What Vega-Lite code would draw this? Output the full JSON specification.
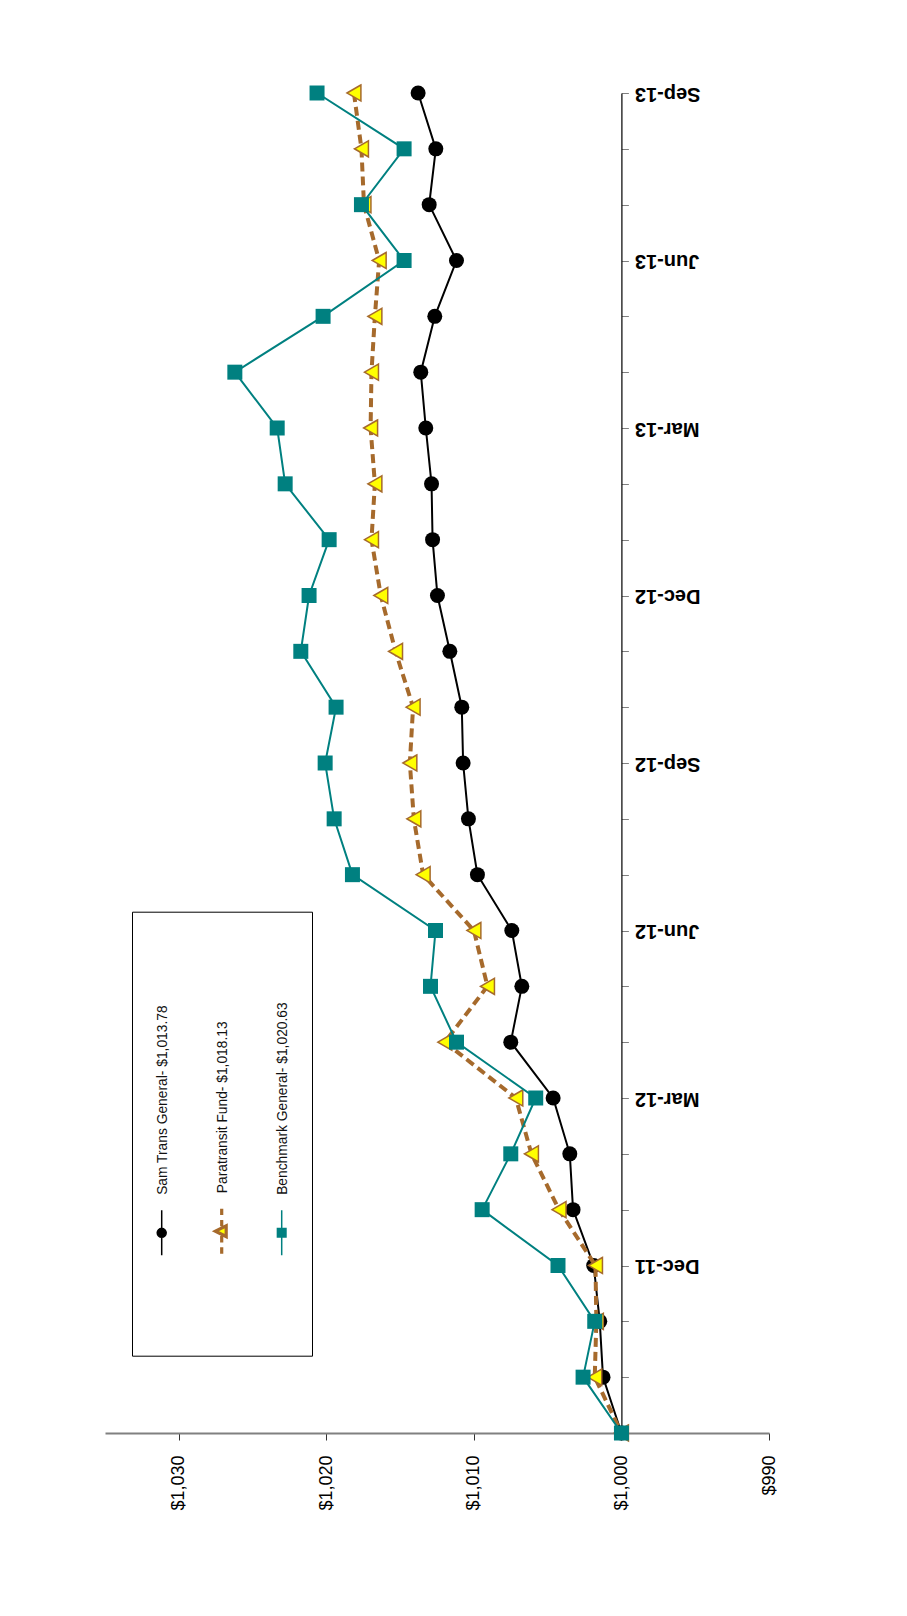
{
  "$schema": "https://vega.github.io/schema/vega-lite/v6.json",
  "width": 664,
  "height": 1340,
  "autosize": {"type": "none"},
  "padding": {"left": 105, "top": 93, "right": 138, "bottom": 183},
  "background": "white",
  "config": {"view": {"stroke": null}, "font": "Liberation Sans"},
  "data": {
    "values": [
      {"month": "Sep-11", "series": "Sam Trans General- $1,013.78", "value": 1000},
      {"month": "Oct-11", "series": "Sam Trans General- $1,013.78", "value": 1001.25},
      {"month": "Nov-11", "series": "Sam Trans General- $1,013.78", "value": 1001.47},
      {"month": "Dec-11", "series": "Sam Trans General- $1,013.78", "value": 1001.88},
      {"month": "Jan-12", "series": "Sam Trans General- $1,013.78", "value": 1003.28},
      {"month": "Feb-12", "series": "Sam Trans General- $1,013.78", "value": 1003.5},
      {"month": "Mar-12", "series": "Sam Trans General- $1,013.78", "value": 1004.63},
      {"month": "Apr-12", "series": "Sam Trans General- $1,013.78", "value": 1007.5},
      {"month": "May-12", "series": "Sam Trans General- $1,013.78", "value": 1006.75},
      {"month": "Jun-12", "series": "Sam Trans General- $1,013.78", "value": 1007.43},
      {"month": "Jul-12", "series": "Sam Trans General- $1,013.78", "value": 1009.76},
      {"month": "Aug-12", "series": "Sam Trans General- $1,013.78", "value": 1010.37},
      {"month": "Sep-12", "series": "Sam Trans General- $1,013.78", "value": 1010.73},
      {"month": "Oct-12", "series": "Sam Trans General- $1,013.78", "value": 1010.82},
      {"month": "Nov-12", "series": "Sam Trans General- $1,013.78", "value": 1011.63},
      {"month": "Dec-12", "series": "Sam Trans General- $1,013.78", "value": 1012.47},
      {"month": "Jan-13", "series": "Sam Trans General- $1,013.78", "value": 1012.8},
      {"month": "Feb-13", "series": "Sam Trans General- $1,013.78", "value": 1012.87},
      {"month": "Mar-13", "series": "Sam Trans General- $1,013.78", "value": 1013.26},
      {"month": "Apr-13", "series": "Sam Trans General- $1,013.78", "value": 1013.6},
      {"month": "May-13", "series": "Sam Trans General- $1,013.78", "value": 1012.65},
      {"month": "Jun-13", "series": "Sam Trans General- $1,013.78", "value": 1011.18},
      {"month": "Jul-13", "series": "Sam Trans General- $1,013.78", "value": 1013.03},
      {"month": "Aug-13", "series": "Sam Trans General- $1,013.78", "value": 1012.58},
      {"month": "Sep-13", "series": "Sam Trans General- $1,013.78", "value": 1013.78},
      {"month": "Sep-11", "series": "Paratransit  Fund- $1,018.13", "value": 1000},
      {"month": "Oct-11", "series": "Paratransit  Fund- $1,018.13", "value": 1001.81},
      {"month": "Nov-11", "series": "Paratransit  Fund- $1,018.13", "value": 1001.7},
      {"month": "Dec-11", "series": "Paratransit  Fund- $1,018.13", "value": 1001.76},
      {"month": "Jan-12", "series": "Paratransit  Fund- $1,018.13", "value": 1004.23},
      {"month": "Feb-12", "series": "Paratransit  Fund- $1,018.13", "value": 1006.1},
      {"month": "Mar-12", "series": "Paratransit  Fund- $1,018.13", "value": 1007.16},
      {"month": "Apr-12", "series": "Paratransit  Fund- $1,018.13", "value": 1011.97},
      {"month": "May-12", "series": "Paratransit  Fund- $1,018.13", "value": 1009.08},
      {"month": "Jun-12", "series": "Paratransit  Fund- $1,018.13", "value": 1010.0},
      {"month": "Jul-12", "series": "Paratransit  Fund- $1,018.13", "value": 1013.44},
      {"month": "Aug-12", "series": "Paratransit  Fund- $1,018.13", "value": 1014.07},
      {"month": "Sep-12", "series": "Paratransit  Fund- $1,018.13", "value": 1014.34},
      {"month": "Oct-12", "series": "Paratransit  Fund- $1,018.13", "value": 1014.12},
      {"month": "Nov-12", "series": "Paratransit  Fund- $1,018.13", "value": 1015.31},
      {"month": "Dec-12", "series": "Paratransit  Fund- $1,018.13", "value": 1016.31},
      {"month": "Jan-13", "series": "Paratransit  Fund- $1,018.13", "value": 1016.94},
      {"month": "Feb-13", "series": "Paratransit  Fund- $1,018.13", "value": 1016.71},
      {"month": "Mar-13", "series": "Paratransit  Fund- $1,018.13", "value": 1017.0},
      {"month": "Apr-13", "series": "Paratransit  Fund- $1,018.13", "value": 1016.94},
      {"month": "May-13", "series": "Paratransit  Fund- $1,018.13", "value": 1016.71},
      {"month": "Jun-13", "series": "Paratransit  Fund- $1,018.13", "value": 1016.42},
      {"month": "Jul-13", "series": "Paratransit  Fund- $1,018.13", "value": 1017.45},
      {"month": "Aug-13", "series": "Paratransit  Fund- $1,018.13", "value": 1017.62},
      {"month": "Sep-13", "series": "Paratransit  Fund- $1,018.13", "value": 1018.13},
      {"month": "Sep-11", "series": "Benchmark General- $1,020.63", "value": 1000},
      {"month": "Oct-11", "series": "Benchmark General- $1,020.63", "value": 1002.6},
      {"month": "Nov-11", "series": "Benchmark General- $1,020.63", "value": 1001.81},
      {"month": "Dec-11", "series": "Benchmark General- $1,020.63", "value": 1004.3},
      {"month": "Jan-12", "series": "Benchmark General- $1,020.63", "value": 1009.44},
      {"month": "Feb-12", "series": "Benchmark General- $1,020.63", "value": 1007.5},
      {"month": "Mar-12", "series": "Benchmark General- $1,020.63", "value": 1005.81},
      {"month": "Apr-12", "series": "Benchmark General- $1,020.63", "value": 1011.18},
      {"month": "May-12", "series": "Benchmark General- $1,020.63", "value": 1012.94},
      {"month": "Jun-12", "series": "Benchmark General- $1,020.63", "value": 1012.6},
      {"month": "Jul-12", "series": "Benchmark General- $1,020.63", "value": 1018.23},
      {"month": "Aug-12", "series": "Benchmark General- $1,020.63", "value": 1019.47},
      {"month": "Sep-12", "series": "Benchmark General- $1,020.63", "value": 1020.08},
      {"month": "Oct-12", "series": "Benchmark General- $1,020.63", "value": 1019.34},
      {"month": "Nov-12", "series": "Benchmark General- $1,020.63", "value": 1021.73},
      {"month": "Dec-12", "series": "Benchmark General- $1,020.63", "value": 1021.17},
      {"month": "Jan-13", "series": "Benchmark General- $1,020.63", "value": 1019.81},
      {"month": "Feb-13", "series": "Benchmark General- $1,020.63", "value": 1022.79},
      {"month": "Mar-13", "series": "Benchmark General- $1,020.63", "value": 1023.33},
      {"month": "Apr-13", "series": "Benchmark General- $1,020.63", "value": 1026.2},
      {"month": "May-13", "series": "Benchmark General- $1,020.63", "value": 1020.22},
      {"month": "Jun-13", "series": "Benchmark General- $1,020.63", "value": 1014.73},
      {"month": "Jul-13", "series": "Benchmark General- $1,020.63", "value": 1017.62},
      {"month": "Aug-13", "series": "Benchmark General- $1,020.63", "value": 1014.73},
      {"month": "Sep-13", "series": "Benchmark General- $1,020.63", "value": 1020.63}
    ]
  },
  "encoding": {
    "y": {
      "field": "month",
      "type": "ordinal",
      "sort": null,
      "scale": {"type": "point", "padding": 0, "reverse": true},
      "axis": {
        "orient": "right",
        "offset": -147.6,
        "title": null,
        "grid": false,
        "labelExpr": "indexof(['Dec-11','Mar-12','Jun-12','Sep-12','Dec-12','Mar-13','Jun-13','Sep-13'], datum.label) >= 0 ? datum.label : ''",
        "labelAngle": 180,
        "labelAlign": "right",
        "labelBaseline": "middle",
        "labelFont": "Liberation Sans",
        "labelFontSize": 20,
        "labelFontWeight": "bold",
        "labelColor": "#000000",
        "labelPadding": 6,
        "labelOverlap": false,
        "labelFlush": false,
        "tickSize": 7,
        "tickColor": "#808080",
        "tickWidth": 1,
        "domainColor": "#000000",
        "domainWidth": 1.2
      }
    },
    "x": {
      "field": "value",
      "type": "quantitative",
      "scale": {"domain": [990, 1035], "reverse": true, "nice": false, "zero": false},
      "axis": {
        "orient": "bottom",
        "title": null,
        "grid": false,
        "values": [990, 1000, 1010, 1020, 1030],
        "format": "$,.0f",
        "labelAngle": -90,
        "labelAlign": "right",
        "labelBaseline": "middle",
        "labelFont": "Liberation Sans",
        "labelFontSize": 18,
        "labelColor": "#000000",
        "labelPadding": 15,
        "labelOverlap": false,
        "labelFlush": false,
        "tickSize": 7,
        "tickColor": "#333333",
        "domainColor": "#808080",
        "domainWidth": 2
      }
    }
  },
  "layer": [
    {
      "transform": [{"filter": "datum.series === 'Sam Trans General- $1,013.78'"}],
      "mark": {
        "type": "line",
        "color": "#000000",
        "strokeWidth": 2,
        "point": {"shape": "circle", "size": 225, "filled": true, "color": "#000000"}
      }
    },
    {
      "transform": [{"filter": "datum.series === 'Paratransit  Fund- $1,018.13'"}],
      "mark": {
        "type": "line",
        "color": "#A66A2C",
        "strokeWidth": 4,
        "strokeDash": [9, 5],
        "point": {"shape": "triangle-left", "size": 260, "filled": true, "fill": "#FFFF00", "stroke": "#A66A2C", "strokeWidth": 1.5, "strokeDash": [1, 0]}
      }
    },
    {
      "transform": [{"filter": "datum.series === 'Benchmark General- $1,020.63'"}],
      "mark": {
        "type": "line",
        "color": "#008080",
        "strokeWidth": 2,
        "point": {"shape": "square", "size": 225, "filled": true, "color": "#008080"}
      }
    },
    {
      "mark": {"type": "point", "opacity": 0},
      "encoding": {
        "shape": {
          "field": "series",
          "type": "nominal",
          "scale": {
            "domain": ["Sam Trans General- $1,013.78", "Paratransit  Fund- $1,018.13", "Benchmark General- $1,020.63"],
            "range": [
              "M0,0L0,0M-0.35,-13.35L-0.35,-13.35M0.35,4.4L0.35,4.4M0,-1L0,1M0.2,0A0.2,0.2,0,1,1,-0.2,0A0.2,0.2,0,1,1,0.2,0Z",
              "M0,0L0,0M-0.35,-13.35L-0.35,-13.35M0.35,4.4L0.35,4.4M0,-1L0,-0.72M0,-0.5L0,-0.22M0,0.22L0,0.5M0,0.72L0,1M-0.28,0L0.2,-0.24L0.2,0.24Z",
              "M0,0L0,0M-0.35,-13.35L-0.35,-13.35M0.35,4.4L0.35,4.4M0,-1L0,1M-0.19,-0.19L0.19,-0.19L0.19,0.19L-0.19,0.19Z"
            ]
          },
          "legend": {
            "title": null,
            "orient": "none",
            "legendX": 27,
            "legendY": 818.7,
            "direction": "horizontal",
            "columns": 3,
            "columnPadding": 34,
            "rowPadding": 0,
            "padding": 19,
            "strokeColor": "#000000",
            "fillColor": "#ffffff",
            "symbolSize": 2025,
            "symbolOpacity": 1,
            "labelFont": "Liberation Sans",
            "labelFontSize": 13.8,
            "labelColor": "#111111",
            "labelLimit": 400,
            "encoding": {
              "symbols": {
                "x": {"value": 10.7},
                "y": {"value": 300.3},
                "opacity": {"value": 1},
                "fill": {"value": {"expr": "['#000000','#FFFF00','#008080'][datum.index]"}},
                "stroke": {"value": {"expr": "['#000000','#A66A2C','#008080'][datum.index]"}},
                "strokeWidth": {"value": {"expr": "[1.5,3.2,1.5][datum.index]"}}
              },
              "labels": {
                "x": {"value": 11.7},
                "y": {"value": 262.3},
                "angle": {"value": -90},
                "align": {"value": "left"},
                "baseline": {"value": "middle"}
              }
            }
          }
        }
      }
    }
  ]
}
